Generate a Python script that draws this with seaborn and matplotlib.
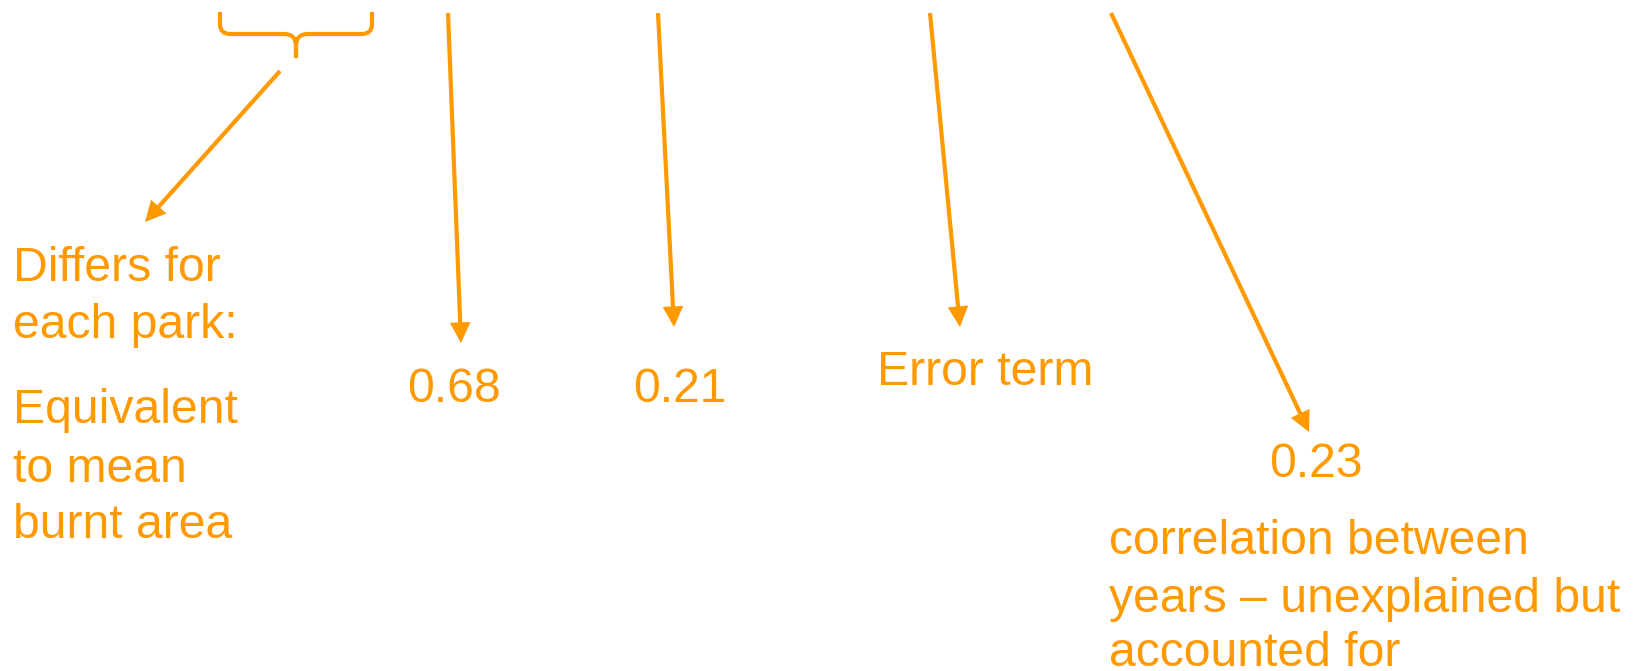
import seaborn as sns, matplotlib.pyplot as plt
from matplotlib.path import Path
from matplotlib.patches import PathPatch

# arrows: tail (x, y) -> head (x, y), in pixel units of the 1644x671 canvas
arrow_tails = [(280, 71), (448, 13), (658, 13), (930, 13), (1111, 13)]
arrow_heads = [(145, 222), (461, 343), (674, 327), (960, 327), (1309, 432)]

# brace over the first term: left x, right x, top y, bar y, tip x, tip y
brace_left, brace_right = 220, 372
brace_top, brace_bar = 12, 34
brace_tip_x, brace_tip_y = 296, 58

# labels: text lines and their left/baseline anchors
labels = [
    'Differs for', 'each park:',
    'Equivalent', 'to mean', 'burnt area',
    '0.68', '0.21', 'Error term', '0.23',
    'correlation between', 'years \u2013 unexplained but', 'accounted for',
]
label_x = [13, 13, 13, 13, 13, 407, 633, 877, 1269, 1109, 1109, 1109]
label_y = [281, 338, 423, 482, 538, 402, 402, 385, 477, 554, 612, 666]

orange = '#FF9900'

sns.set_theme(style='white')
plt.rcParams['font.family'] = ['Liberation Sans', 'DejaVu Sans']

fig = plt.figure(figsize=(16.44, 6.71), dpi=100)
ax = fig.add_axes([0, 0, 1, 1])
ax.set_xlim(0, 1644)
ax.set_ylim(671, 0)
ax.axis('off')

for tail, head in zip(arrow_tails, arrow_heads):
    ax.annotate('', xy=head, xytext=tail,
                arrowprops=dict(arrowstyle='-|>,head_length=1.0,head_width=0.5',
                                color=orange, lw=3, shrinkA=0, shrinkB=0,
                                mutation_scale=10, joinstyle='miter',
                                capstyle='butt'))

# curly brace
r = 10
verts, codes = [], []
for side in (brace_left, brace_right):
    d = 1 if side < brace_tip_x else -1
    verts += [(side, brace_top), (side, brace_bar - r),
              (side, brace_bar), (side + d * r, brace_bar),
              (brace_tip_x - d * 12, brace_bar),
              (brace_tip_x, brace_bar), (brace_tip_x, brace_bar + 12),
              (brace_tip_x, brace_tip_y)]
    codes += [Path.MOVETO, Path.LINETO, Path.CURVE3, Path.CURVE3,
              Path.LINETO, Path.CURVE3, Path.CURVE3, Path.LINETO]
ax.add_patch(PathPatch(Path(verts, codes), fill=False, edgecolor=orange,
                       lw=3, capstyle='butt'))

for txt, x, y in zip(labels, label_x, label_y):
    ax.text(x, y, txt, color=orange, fontsize=34.7, ha='left', va='baseline')

fig.savefig('out.png', dpi=100)
